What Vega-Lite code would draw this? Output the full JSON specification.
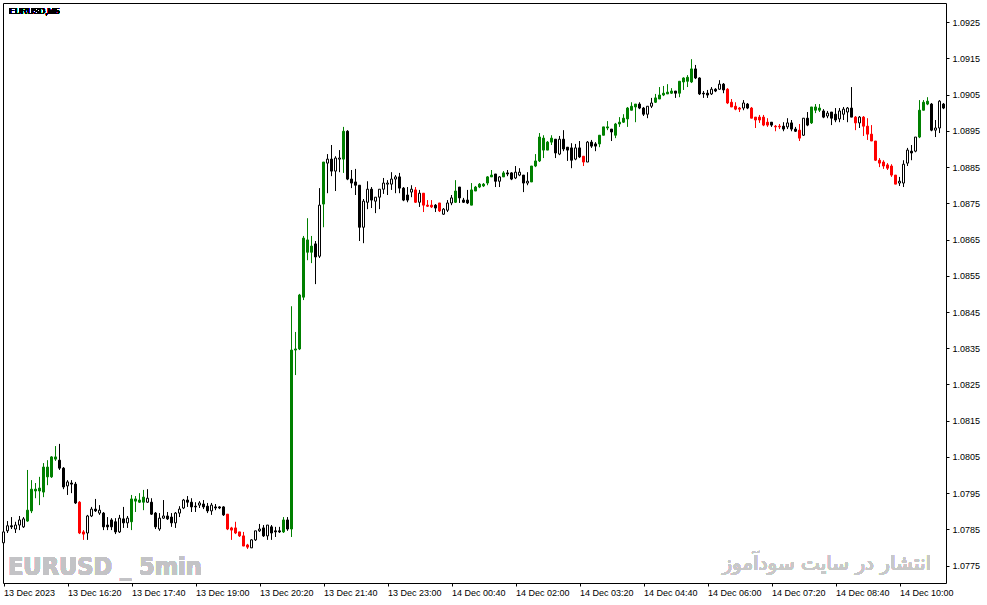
{
  "$schema": "https://vega.github.io/schema/vega-lite/v6.json",
  "description": "EURUSD M5 candlestick chart, 13-14 Dec 2023",
  "width": 943,
  "height": 580,
  "autosize": {"type": "none"},
  "padding": {"left": 3, "top": 3, "right": 41, "bottom": 22},
  "background": "white",
  "config": {
    "view": {"stroke": "#000000", "strokeWidth": 1},
    "axis": {
      "labelFont": "Liberation Sans",
      "labelFontSize": 9,
      "labelColor": "#000000",
      "tickColor": "#000000",
      "tickSize": 3,
      "labelOverlap": false,
      "labelFlush": false,
      "domain": false,
      "grid": false
    }
  },
  "data": {
    "values": [
      {"i":0,"o":1.07813,"h":1.07848,"l":1.07810,"c":1.07843,"k":"w"},
      {"i":1,"o":1.07846,"h":1.07873,"l":1.07840,"c":1.07860,"k":"w"},
      {"i":2,"o":1.07860,"h":1.07884,"l":1.07851,"c":1.07857,"k":"b"},
      {"i":3,"o":1.07851,"h":1.07871,"l":1.07840,"c":1.07862,"k":"w"},
      {"i":4,"o":1.07862,"h":1.07887,"l":1.07848,"c":1.07876,"k":"w"},
      {"i":5,"o":1.07857,"h":1.07884,"l":1.07854,"c":1.07879,"k":"w"},
      {"i":6,"o":1.07873,"h":1.08014,"l":1.07871,"c":1.07903,"k":"g"},
      {"i":7,"o":1.07901,"h":1.07986,"l":1.07895,"c":1.07961,"k":"g"},
      {"i":8,"o":1.07956,"h":1.07978,"l":1.07936,"c":1.07961,"k":"g"},
      {"i":9,"o":1.07956,"h":1.07995,"l":1.07917,"c":1.07964,"k":"g"},
      {"i":10,"o":1.07953,"h":1.08033,"l":1.07939,"c":1.08022,"k":"g"},
      {"i":11,"o":1.08022,"h":1.08041,"l":1.07972,"c":1.07995,"k":"g"},
      {"i":12,"o":1.07995,"h":1.08052,"l":1.07992,"c":1.08050,"k":"g"},
      {"i":13,"o":1.08044,"h":1.08080,"l":1.08039,"c":1.08050,"k":"g"},
      {"i":14,"o":1.08041,"h":1.08086,"l":1.08014,"c":1.08019,"k":"b"},
      {"i":15,"o":1.08019,"h":1.08022,"l":1.07961,"c":1.07967,"k":"b"},
      {"i":16,"o":1.07970,"h":1.07986,"l":1.07945,"c":1.07981,"k":"w"},
      {"i":17,"o":1.07978,"h":1.07986,"l":1.07950,"c":1.07975,"k":"b"},
      {"i":18,"o":1.07975,"h":1.07981,"l":1.07920,"c":1.07923,"k":"b"},
      {"i":19,"o":1.07925,"h":1.07928,"l":1.07837,"c":1.07840,"k":"r"},
      {"i":20,"o":1.07843,"h":1.07848,"l":1.07821,"c":1.07837,"k":"r"},
      {"i":21,"o":1.07840,"h":1.07890,"l":1.07821,"c":1.07887,"k":"w"},
      {"i":22,"o":1.07887,"h":1.07912,"l":1.07884,"c":1.07906,"k":"w"},
      {"i":23,"o":1.07906,"h":1.07934,"l":1.07898,"c":1.07901,"k":"b"},
      {"i":24,"o":1.07895,"h":1.07917,"l":1.07890,"c":1.07903,"k":"w"},
      {"i":25,"o":1.07895,"h":1.07898,"l":1.07848,"c":1.07857,"k":"b"},
      {"i":26,"o":1.07862,"h":1.07884,"l":1.07848,"c":1.07857,"k":"b"},
      {"i":27,"o":1.07876,"h":1.07881,"l":1.07848,"c":1.07857,"k":"b"},
      {"i":28,"o":1.07871,"h":1.07881,"l":1.07837,"c":1.07843,"k":"b"},
      {"i":29,"o":1.07843,"h":1.07890,"l":1.07840,"c":1.07881,"k":"w"},
      {"i":30,"o":1.07879,"h":1.07912,"l":1.07854,"c":1.07868,"k":"b"},
      {"i":31,"o":1.07868,"h":1.07887,"l":1.07854,"c":1.07881,"k":"w"},
      {"i":32,"o":1.07871,"h":1.07945,"l":1.07848,"c":1.07934,"k":"g"},
      {"i":33,"o":1.07928,"h":1.07942,"l":1.07898,"c":1.07934,"k":"g"},
      {"i":34,"o":1.07925,"h":1.07950,"l":1.07923,"c":1.07931,"k":"g"},
      {"i":35,"o":1.07925,"h":1.07959,"l":1.07903,"c":1.07939,"k":"g"},
      {"i":36,"o":1.07925,"h":1.07961,"l":1.07923,"c":1.07936,"k":"w"},
      {"i":37,"o":1.07925,"h":1.07936,"l":1.07890,"c":1.07892,"k":"b"},
      {"i":38,"o":1.07895,"h":1.07898,"l":1.07851,"c":1.07857,"k":"b"},
      {"i":39,"o":1.07851,"h":1.07895,"l":1.07846,"c":1.07881,"k":"w"},
      {"i":40,"o":1.07881,"h":1.07931,"l":1.07879,"c":1.07887,"k":"w"},
      {"i":41,"o":1.07887,"h":1.07898,"l":1.07876,"c":1.07879,"k":"b"},
      {"i":42,"o":1.07884,"h":1.07895,"l":1.07857,"c":1.07868,"k":"b"},
      {"i":43,"o":1.07868,"h":1.07898,"l":1.07854,"c":1.07895,"k":"w"},
      {"i":44,"o":1.07895,"h":1.07914,"l":1.07884,"c":1.07906,"k":"w"},
      {"i":45,"o":1.07909,"h":1.07934,"l":1.07906,"c":1.07931,"k":"w"},
      {"i":46,"o":1.07931,"h":1.07942,"l":1.07912,"c":1.07925,"k":"b"},
      {"i":47,"o":1.07925,"h":1.07936,"l":1.07898,"c":1.07912,"k":"b"},
      {"i":48,"o":1.07914,"h":1.07925,"l":1.07898,"c":1.07912,"k":"b"},
      {"i":49,"o":1.07917,"h":1.07928,"l":1.07909,"c":1.07923,"k":"w"},
      {"i":50,"o":1.07920,"h":1.07931,"l":1.07906,"c":1.07912,"k":"b"},
      {"i":51,"o":1.07914,"h":1.07923,"l":1.07895,"c":1.07901,"k":"b"},
      {"i":52,"o":1.07901,"h":1.07923,"l":1.07890,"c":1.07917,"k":"w"},
      {"i":53,"o":1.07912,"h":1.07920,"l":1.07903,"c":1.07909,"k":"b"},
      {"i":54,"o":1.07912,"h":1.07914,"l":1.07906,"c":1.07909,"k":"b"},
      {"i":55,"o":1.07912,"h":1.07914,"l":1.07887,"c":1.07890,"k":"b"},
      {"i":56,"o":1.07892,"h":1.07892,"l":1.07848,"c":1.07851,"k":"r"},
      {"i":57,"o":1.07854,"h":1.07857,"l":1.07821,"c":1.07848,"k":"r"},
      {"i":58,"o":1.07854,"h":1.07871,"l":1.07837,"c":1.07840,"k":"r"},
      {"i":59,"o":1.07843,"h":1.07843,"l":1.07829,"c":1.07832,"k":"r"},
      {"i":60,"o":1.07832,"h":1.07843,"l":1.07804,"c":1.07804,"k":"r"},
      {"i":61,"o":1.07807,"h":1.07810,"l":1.07796,"c":1.07801,"k":"r"},
      {"i":62,"o":1.07799,"h":1.07823,"l":1.07799,"c":1.07821,"k":"w"},
      {"i":63,"o":1.07821,"h":1.07846,"l":1.07818,"c":1.07846,"k":"w"},
      {"i":64,"o":1.07846,"h":1.07865,"l":1.07843,"c":1.07851,"k":"w"},
      {"i":65,"o":1.07854,"h":1.07862,"l":1.07829,"c":1.07832,"k":"b"},
      {"i":66,"o":1.07832,"h":1.07862,"l":1.07821,"c":1.07862,"k":"w"},
      {"i":67,"o":1.07857,"h":1.07862,"l":1.07821,"c":1.07840,"k":"b"},
      {"i":68,"o":1.07846,"h":1.07857,"l":1.07829,"c":1.07843,"k":"b"},
      {"i":69,"o":1.07846,"h":1.07857,"l":1.07840,"c":1.07843,"k":"b"},
      {"i":70,"o":1.07843,"h":1.07884,"l":1.07840,"c":1.07876,"k":"g"},
      {"i":71,"o":1.07876,"h":1.07884,"l":1.07846,"c":1.07851,"k":"b"},
      {"i":72,"o":1.07851,"h":1.08466,"l":1.07829,"c":1.08345,"k":"g"},
      {"i":73,"o":1.08345,"h":1.08395,"l":1.08276,"c":1.08348,"k":"g"},
      {"i":74,"o":1.08348,"h":1.08500,"l":1.08345,"c":1.08497,"k":"g"},
      {"i":75,"o":1.08491,"h":1.08660,"l":1.08483,"c":1.08654,"k":"g"},
      {"i":76,"o":1.08649,"h":1.08709,"l":1.08593,"c":1.08615,"k":"g"},
      {"i":77,"o":1.08615,"h":1.08660,"l":1.08585,"c":1.08632,"k":"g"},
      {"i":78,"o":1.08638,"h":1.08646,"l":1.08527,"c":1.08602,"k":"b"},
      {"i":79,"o":1.08604,"h":1.08792,"l":1.08599,"c":1.08745,"k":"w"},
      {"i":80,"o":1.08748,"h":1.08864,"l":1.08684,"c":1.08864,"k":"g"},
      {"i":81,"o":1.08861,"h":1.08886,"l":1.08778,"c":1.08872,"k":"w"},
      {"i":82,"o":1.08872,"h":1.08911,"l":1.08825,"c":1.08839,"k":"b"},
      {"i":83,"o":1.08839,"h":1.08880,"l":1.08784,"c":1.08875,"k":"w"},
      {"i":84,"o":1.08872,"h":1.08897,"l":1.08836,"c":1.08875,"k":"w"},
      {"i":85,"o":1.08872,"h":1.08961,"l":1.08834,"c":1.08949,"k":"g"},
      {"i":86,"o":1.08949,"h":1.08952,"l":1.08814,"c":1.08817,"k":"b"},
      {"i":87,"o":1.08817,"h":1.08842,"l":1.08792,"c":1.08806,"k":"b"},
      {"i":88,"o":1.08809,"h":1.08845,"l":1.08773,"c":1.08800,"k":"b"},
      {"i":89,"o":1.08800,"h":1.08800,"l":1.08646,"c":1.08684,"k":"b"},
      {"i":90,"o":1.08684,"h":1.08762,"l":1.08640,"c":1.08756,"k":"w"},
      {"i":91,"o":1.08753,"h":1.08811,"l":1.08734,"c":1.08789,"k":"w"},
      {"i":92,"o":1.08789,"h":1.08795,"l":1.08737,"c":1.08759,"k":"b"},
      {"i":93,"o":1.08756,"h":1.08767,"l":1.08723,"c":1.08767,"k":"w"},
      {"i":94,"o":1.08767,"h":1.08789,"l":1.08734,"c":1.08789,"k":"w"},
      {"i":95,"o":1.08789,"h":1.08820,"l":1.08776,"c":1.08806,"k":"w"},
      {"i":96,"o":1.08803,"h":1.08814,"l":1.08773,"c":1.08806,"k":"w"},
      {"i":97,"o":1.08803,"h":1.08836,"l":1.08787,"c":1.08817,"k":"w"},
      {"i":98,"o":1.08817,"h":1.08828,"l":1.08778,"c":1.08823,"k":"w"},
      {"i":99,"o":1.08823,"h":1.08834,"l":1.08778,"c":1.08792,"k":"b"},
      {"i":100,"o":1.08792,"h":1.08795,"l":1.08756,"c":1.08759,"k":"b"},
      {"i":101,"o":1.08773,"h":1.08795,"l":1.08753,"c":1.08759,"k":"b"},
      {"i":102,"o":1.08781,"h":1.08800,"l":1.08767,"c":1.08789,"k":"w"},
      {"i":103,"o":1.08787,"h":1.08795,"l":1.08751,"c":1.08753,"k":"r"},
      {"i":104,"o":1.08753,"h":1.08787,"l":1.08740,"c":1.08778,"k":"w"},
      {"i":105,"o":1.08778,"h":1.08778,"l":1.08726,"c":1.08745,"k":"r"},
      {"i":106,"o":1.08745,"h":1.08759,"l":1.08740,"c":1.08742,"k":"r"},
      {"i":107,"o":1.08745,"h":1.08759,"l":1.08737,"c":1.08740,"k":"r"},
      {"i":108,"o":1.08745,"h":1.08748,"l":1.08726,"c":1.08737,"k":"b"},
      {"i":109,"o":1.08751,"h":1.08751,"l":1.08726,"c":1.08729,"k":"r"},
      {"i":110,"o":1.08720,"h":1.08737,"l":1.08718,"c":1.08734,"k":"w"},
      {"i":111,"o":1.08731,"h":1.08759,"l":1.08726,"c":1.08751,"k":"w"},
      {"i":112,"o":1.08751,"h":1.08773,"l":1.08745,"c":1.08765,"k":"w"},
      {"i":113,"o":1.08753,"h":1.08814,"l":1.08751,"c":1.08784,"k":"g"},
      {"i":114,"o":1.08795,"h":1.08795,"l":1.08751,"c":1.08765,"k":"b"},
      {"i":115,"o":1.08759,"h":1.08765,"l":1.08751,"c":1.08753,"k":"b"},
      {"i":116,"o":1.08759,"h":1.08787,"l":1.08748,"c":1.08751,"k":"b"},
      {"i":117,"o":1.08745,"h":1.08806,"l":1.08745,"c":1.08787,"k":"g"},
      {"i":118,"o":1.08784,"h":1.08798,"l":1.08784,"c":1.08795,"k":"g"},
      {"i":119,"o":1.08795,"h":1.08806,"l":1.08792,"c":1.08803,"k":"g"},
      {"i":120,"o":1.08798,"h":1.08806,"l":1.08795,"c":1.08803,"k":"g"},
      {"i":121,"o":1.08806,"h":1.08825,"l":1.08800,"c":1.08823,"k":"g"},
      {"i":122,"o":1.08823,"h":1.08842,"l":1.08823,"c":1.08828,"k":"g"},
      {"i":123,"o":1.08831,"h":1.08831,"l":1.08795,"c":1.08811,"k":"b"},
      {"i":124,"o":1.08811,"h":1.08825,"l":1.08795,"c":1.08823,"k":"w"},
      {"i":125,"o":1.08823,"h":1.08839,"l":1.08823,"c":1.08834,"k":"g"},
      {"i":126,"o":1.08834,"h":1.08842,"l":1.08825,"c":1.08831,"k":"b"},
      {"i":127,"o":1.08834,"h":1.08836,"l":1.08814,"c":1.08817,"k":"b"},
      {"i":128,"o":1.08820,"h":1.08853,"l":1.08817,"c":1.08836,"k":"w"},
      {"i":129,"o":1.08828,"h":1.08847,"l":1.08825,"c":1.08836,"k":"w"},
      {"i":130,"o":1.08828,"h":1.08828,"l":1.08781,"c":1.08806,"k":"b"},
      {"i":131,"o":1.08806,"h":1.08836,"l":1.08800,"c":1.08811,"k":"w"},
      {"i":132,"o":1.08809,"h":1.08853,"l":1.08809,"c":1.08853,"k":"g"},
      {"i":133,"o":1.08853,"h":1.08886,"l":1.08850,"c":1.08867,"k":"g"},
      {"i":134,"o":1.08867,"h":1.08944,"l":1.08864,"c":1.08933,"k":"g"},
      {"i":135,"o":1.08930,"h":1.08938,"l":1.08875,"c":1.08897,"k":"g"},
      {"i":136,"o":1.08897,"h":1.08922,"l":1.08897,"c":1.08919,"k":"g"},
      {"i":137,"o":1.08919,"h":1.08938,"l":1.08911,"c":1.08930,"k":"g"},
      {"i":138,"o":1.08927,"h":1.08927,"l":1.08875,"c":1.08889,"k":"b"},
      {"i":139,"o":1.08886,"h":1.08936,"l":1.08883,"c":1.08927,"k":"w"},
      {"i":140,"o":1.08927,"h":1.08952,"l":1.08894,"c":1.08900,"k":"b"},
      {"i":141,"o":1.08905,"h":1.08905,"l":1.08867,"c":1.08897,"k":"b"},
      {"i":142,"o":1.08903,"h":1.08916,"l":1.08847,"c":1.08869,"k":"b"},
      {"i":143,"o":1.08872,"h":1.08914,"l":1.08869,"c":1.08903,"k":"w"},
      {"i":144,"o":1.08903,"h":1.08922,"l":1.08875,"c":1.08878,"k":"b"},
      {"i":145,"o":1.08880,"h":1.08880,"l":1.08853,"c":1.08864,"k":"r"},
      {"i":146,"o":1.08864,"h":1.08922,"l":1.08864,"c":1.08919,"k":"w"},
      {"i":147,"o":1.08919,"h":1.08925,"l":1.08903,"c":1.08908,"k":"b"},
      {"i":148,"o":1.08914,"h":1.08919,"l":1.08894,"c":1.08908,"k":"b"},
      {"i":149,"o":1.08914,"h":1.08938,"l":1.08905,"c":1.08938,"k":"g"},
      {"i":150,"o":1.08938,"h":1.08961,"l":1.08938,"c":1.08961,"k":"g"},
      {"i":151,"o":1.08958,"h":1.08977,"l":1.08952,"c":1.08961,"k":"g"},
      {"i":152,"o":1.08955,"h":1.08955,"l":1.08922,"c":1.08947,"k":"b"},
      {"i":153,"o":1.08938,"h":1.08972,"l":1.08930,"c":1.08969,"k":"g"},
      {"i":154,"o":1.08969,"h":1.08988,"l":1.08961,"c":1.08974,"k":"g"},
      {"i":155,"o":1.08974,"h":1.08996,"l":1.08972,"c":1.08985,"k":"g"},
      {"i":156,"o":1.08983,"h":1.09016,"l":1.08961,"c":1.09013,"k":"g"},
      {"i":157,"o":1.09007,"h":1.09029,"l":1.09007,"c":1.09018,"k":"g"},
      {"i":158,"o":1.09016,"h":1.09024,"l":1.08974,"c":1.09024,"k":"g"},
      {"i":159,"o":1.09024,"h":1.09029,"l":1.09010,"c":1.09013,"k":"b"},
      {"i":160,"o":1.09013,"h":1.09016,"l":1.08991,"c":1.08996,"k":"b"},
      {"i":161,"o":1.08996,"h":1.09018,"l":1.08985,"c":1.09018,"k":"w"},
      {"i":162,"o":1.09018,"h":1.09041,"l":1.09013,"c":1.09027,"k":"w"},
      {"i":163,"o":1.09029,"h":1.09052,"l":1.09027,"c":1.09041,"k":"g"},
      {"i":164,"o":1.09038,"h":1.09071,"l":1.09038,"c":1.09049,"k":"g"},
      {"i":165,"o":1.09049,"h":1.09074,"l":1.09046,"c":1.09054,"k":"g"},
      {"i":166,"o":1.09052,"h":1.09079,"l":1.09052,"c":1.09057,"k":"g"},
      {"i":167,"o":1.09054,"h":1.09068,"l":1.09052,"c":1.09060,"k":"g"},
      {"i":168,"o":1.09060,"h":1.09060,"l":1.09041,"c":1.09054,"k":"b"},
      {"i":169,"o":1.09054,"h":1.09087,"l":1.09043,"c":1.09087,"k":"g"},
      {"i":170,"o":1.09085,"h":1.09098,"l":1.09063,"c":1.09096,"k":"g"},
      {"i":171,"o":1.09087,"h":1.09104,"l":1.09071,"c":1.09098,"k":"g"},
      {"i":172,"o":1.09085,"h":1.09148,"l":1.09082,"c":1.09121,"k":"g"},
      {"i":173,"o":1.09121,"h":1.09132,"l":1.09093,"c":1.09096,"k":"b"},
      {"i":174,"o":1.09096,"h":1.09098,"l":1.09049,"c":1.09052,"k":"b"},
      {"i":175,"o":1.09054,"h":1.09060,"l":1.09041,"c":1.09052,"k":"b"},
      {"i":176,"o":1.09054,"h":1.09063,"l":1.09041,"c":1.09049,"k":"b"},
      {"i":177,"o":1.09052,"h":1.09071,"l":1.09049,"c":1.09065,"k":"w"},
      {"i":178,"o":1.09065,"h":1.09068,"l":1.09057,"c":1.09060,"k":"b"},
      {"i":179,"o":1.09065,"h":1.09090,"l":1.09063,"c":1.09079,"k":"w"},
      {"i":180,"o":1.09079,"h":1.09082,"l":1.09054,"c":1.09063,"k":"b"},
      {"i":181,"o":1.09065,"h":1.09068,"l":1.09024,"c":1.09027,"k":"r"},
      {"i":182,"o":1.09029,"h":1.09038,"l":1.09016,"c":1.09016,"k":"r"},
      {"i":183,"o":1.09018,"h":1.09029,"l":1.09007,"c":1.09010,"k":"r"},
      {"i":184,"o":1.09013,"h":1.09016,"l":1.09002,"c":1.09010,"k":"r"},
      {"i":185,"o":1.09013,"h":1.09035,"l":1.09007,"c":1.09027,"k":"w"},
      {"i":186,"o":1.09024,"h":1.09027,"l":1.09010,"c":1.09013,"k":"b"},
      {"i":187,"o":1.09013,"h":1.09016,"l":1.08985,"c":1.08985,"k":"r"},
      {"i":188,"o":1.08988,"h":1.08988,"l":1.08958,"c":1.08980,"k":"r"},
      {"i":189,"o":1.08988,"h":1.08994,"l":1.08972,"c":1.08980,"k":"r"},
      {"i":190,"o":1.08988,"h":1.08994,"l":1.08963,"c":1.08966,"k":"r"},
      {"i":191,"o":1.08974,"h":1.08985,"l":1.08961,"c":1.08966,"k":"r"},
      {"i":192,"o":1.08974,"h":1.08974,"l":1.08961,"c":1.08966,"k":"b"},
      {"i":193,"o":1.08963,"h":1.08966,"l":1.08949,"c":1.08961,"k":"r"},
      {"i":194,"o":1.08963,"h":1.08969,"l":1.08955,"c":1.08961,"k":"r"},
      {"i":195,"o":1.08963,"h":1.08974,"l":1.08949,"c":1.08955,"k":"b"},
      {"i":196,"o":1.08961,"h":1.08985,"l":1.08955,"c":1.08972,"k":"w"},
      {"i":197,"o":1.08972,"h":1.08980,"l":1.08949,"c":1.08955,"k":"b"},
      {"i":198,"o":1.08955,"h":1.08961,"l":1.08947,"c":1.08949,"k":"b"},
      {"i":199,"o":1.08952,"h":1.08969,"l":1.08922,"c":1.08930,"k":"r"},
      {"i":200,"o":1.08938,"h":1.08985,"l":1.08936,"c":1.08985,"k":"w"},
      {"i":201,"o":1.08985,"h":1.09002,"l":1.08963,"c":1.08966,"k":"b"},
      {"i":202,"o":1.08972,"h":1.09016,"l":1.08969,"c":1.09016,"k":"g"},
      {"i":203,"o":1.09007,"h":1.09024,"l":1.08999,"c":1.09016,"k":"g"},
      {"i":204,"o":1.09007,"h":1.09024,"l":1.09002,"c":1.09013,"k":"g"},
      {"i":205,"o":1.09005,"h":1.09010,"l":1.08985,"c":1.08988,"k":"b"},
      {"i":206,"o":1.08991,"h":1.09005,"l":1.08985,"c":1.08999,"k":"w"},
      {"i":207,"o":1.09002,"h":1.09002,"l":1.08966,"c":1.08985,"k":"b"},
      {"i":208,"o":1.08996,"h":1.09013,"l":1.08974,"c":1.08980,"k":"b"},
      {"i":209,"o":1.08983,"h":1.09013,"l":1.08974,"c":1.09005,"k":"w"},
      {"i":210,"o":1.08996,"h":1.09016,"l":1.08980,"c":1.09010,"k":"w"},
      {"i":211,"o":1.09002,"h":1.09016,"l":1.08974,"c":1.09013,"k":"w"},
      {"i":212,"o":1.09013,"h":1.09071,"l":1.08988,"c":1.08988,"k":"b"},
      {"i":213,"o":1.08988,"h":1.08991,"l":1.08952,"c":1.08972,"k":"r"},
      {"i":214,"o":1.08972,"h":1.08991,"l":1.08958,"c":1.08988,"k":"w"},
      {"i":215,"o":1.08988,"h":1.08991,"l":1.08936,"c":1.08963,"k":"r"},
      {"i":216,"o":1.08963,"h":1.08985,"l":1.08925,"c":1.08941,"k":"r"},
      {"i":217,"o":1.08941,"h":1.08966,"l":1.08922,"c":1.08922,"k":"r"},
      {"i":218,"o":1.08922,"h":1.08922,"l":1.08867,"c":1.08869,"k":"r"},
      {"i":219,"o":1.08869,"h":1.08875,"l":1.08850,"c":1.08861,"k":"r"},
      {"i":220,"o":1.08864,"h":1.08869,"l":1.08845,"c":1.08853,"k":"r"},
      {"i":221,"o":1.08856,"h":1.08861,"l":1.08842,"c":1.08847,"k":"r"},
      {"i":222,"o":1.08853,"h":1.08858,"l":1.08823,"c":1.08828,"k":"r"},
      {"i":223,"o":1.08828,"h":1.08828,"l":1.08803,"c":1.08803,"k":"r"},
      {"i":224,"o":1.08806,"h":1.08823,"l":1.08798,"c":1.08811,"k":"w"},
      {"i":225,"o":1.08806,"h":1.08869,"l":1.08795,"c":1.08858,"k":"w"},
      {"i":226,"o":1.08861,"h":1.08903,"l":1.08853,"c":1.08897,"k":"w"},
      {"i":227,"o":1.08894,"h":1.08911,"l":1.08869,"c":1.08889,"k":"b"},
      {"i":228,"o":1.08894,"h":1.08933,"l":1.08891,"c":1.08933,"k":"w"},
      {"i":229,"o":1.08933,"h":1.09035,"l":1.08930,"c":1.09007,"k":"g"},
      {"i":230,"o":1.09007,"h":1.09035,"l":1.09007,"c":1.09029,"k":"g"},
      {"i":231,"o":1.09024,"h":1.09043,"l":1.09021,"c":1.09032,"k":"g"},
      {"i":232,"o":1.09024,"h":1.09027,"l":1.08949,"c":1.08952,"k":"b"},
      {"i":233,"o":1.08952,"h":1.08980,"l":1.08933,"c":1.08958,"k":"w"},
      {"i":234,"o":1.08958,"h":1.09035,"l":1.08944,"c":1.09032,"k":"w"},
      {"i":235,"o":1.09024,"h":1.09027,"l":1.09010,"c":1.09013,"k":"b"}
    ]
  },
  "layer": [
    {
      "mark": {"type": "rule", "strokeWidth": 1},
      "encoding": {
        "x": {
          "field": "i",
          "type": "quantitative",
          "title": null,
          "scale": {"domain": [-0.125, 235.625], "nice": false, "zero": false, "padding": 0},
          "axis": {
            "orient": "bottom",
            "values": [0, 16, 32, 48, 64, 80, 96, 112, 128, 144, 160, 176, 192, 208, 224],
            "tickCount": 40,
            "labelExpr": "['13 Dec 2023','13 Dec 16:20','13 Dec 17:40','13 Dec 19:00','13 Dec 20:20','13 Dec 21:40','13 Dec 23:00','14 Dec 00:40','14 Dec 02:00','14 Dec 03:20','14 Dec 04:40','14 Dec 06:00','14 Dec 07:20','14 Dec 08:40','14 Dec 10:00'][round(datum.value / 16)]",
            "labelAlign": "left",
            "labelBaseline": "top",
            "labelPadding": 2,
            "labelOverlap": false
          }
        },
        "y": {
          "field": "h",
          "type": "quantitative",
          "title": null,
          "scale": {"domain": [1.07702, 1.09303], "nice": false, "zero": false, "padding": 0},
          "axis": {
            "orient": "right",
            "values": [1.0775, 1.0785, 1.0795, 1.0805, 1.0815, 1.0825, 1.0835, 1.0845, 1.0855, 1.0865, 1.0875, 1.0885, 1.0895, 1.0905, 1.0915, 1.0925],
            "tickCount": 40,
            "format": ".4f",
            "labelAlign": "left",
            "labelBaseline": "middle",
            "labelPadding": 3,
            "labelOverlap": false
          }
        },
        "y2": {"field": "l"},
        "stroke": {
          "field": "k",
          "type": "nominal",
          "scale": {"domain": ["w", "b", "g", "r"], "range": ["#000000", "#000000", "#008000", "#ff0000"]},
          "legend": null
        }
      }
    },
    {
      "mark": {"type": "bar", "size": 2, "strokeWidth": 1},
      "encoding": {
        "x": {
          "field": "i",
          "type": "quantitative",
          "title": null,
          "axis": {
            "orient": "bottom",
            "values": [0, 16, 32, 48, 64, 80, 96, 112, 128, 144, 160, 176, 192, 208, 224],
            "tickCount": 40,
            "labelExpr": "['13 Dec 2023','13 Dec 16:20','13 Dec 17:40','13 Dec 19:00','13 Dec 20:20','13 Dec 21:40','13 Dec 23:00','14 Dec 00:40','14 Dec 02:00','14 Dec 03:20','14 Dec 04:40','14 Dec 06:00','14 Dec 07:20','14 Dec 08:40','14 Dec 10:00'][round(datum.value / 16)]",
            "labelAlign": "left",
            "labelBaseline": "top",
            "labelPadding": 2,
            "labelOverlap": false
          }
        },
        "y": {
          "field": "o",
          "type": "quantitative",
          "title": null,
          "axis": {
            "orient": "right",
            "values": [1.0775, 1.0785, 1.0795, 1.0805, 1.0815, 1.0825, 1.0835, 1.0845, 1.0855, 1.0865, 1.0875, 1.0885, 1.0895, 1.0905, 1.0915, 1.0925],
            "tickCount": 40,
            "format": ".4f",
            "labelAlign": "left",
            "labelBaseline": "middle",
            "labelPadding": 3,
            "labelOverlap": false
          }
        },
        "y2": {"field": "c"},
        "fill": {
          "field": "k",
          "type": "nominal",
          "scale": {"domain": ["w", "b", "g", "r"], "range": ["#ffffff", "#000000", "#008000", "#ff0000"]},
          "legend": null
        },
        "stroke": {"field": "k", "type": "nominal", "legend": null}
      }
    },
    {
      "mark": {"type": "text", "text": "EURUSD,M5", "font": "Liberation Sans", "fontSize": 8.5, "align": "left", "baseline": "alphabetic", "color": "#000000"},
      "encoding": {
        "x": {"datum": 1.45, "type": "quantitative", "title": null},
        "y": {"datum": 1.09274, "type": "quantitative", "title": null}
      }
    },
    {
      "mark": {"type": "text", "text": "EURUSD _ 5min", "font": "DejaVu Sans Condensed", "fontWeight": "bold", "fontSize": 25, "align": "left", "baseline": "alphabetic", "color": "#c3c3c6"},
      "encoding": {
        "x": {"datum": 1.125, "type": "quantitative", "title": null},
        "y": {"datum": 1.07724, "type": "quantitative", "title": null}
      }
    },
    {
      "mark": {"type": "text", "text": "انتشار در سایت سودآموز", "font": "DejaVu Sans", "fontSize": 20, "align": "right", "baseline": "alphabetic", "color": "#c8c8c8"},
      "encoding": {
        "x": {"datum": 231.9, "type": "quantitative", "title": null},
        "y": {"datum": 1.07738, "type": "quantitative", "title": null}
      }
    }
  ]
}
